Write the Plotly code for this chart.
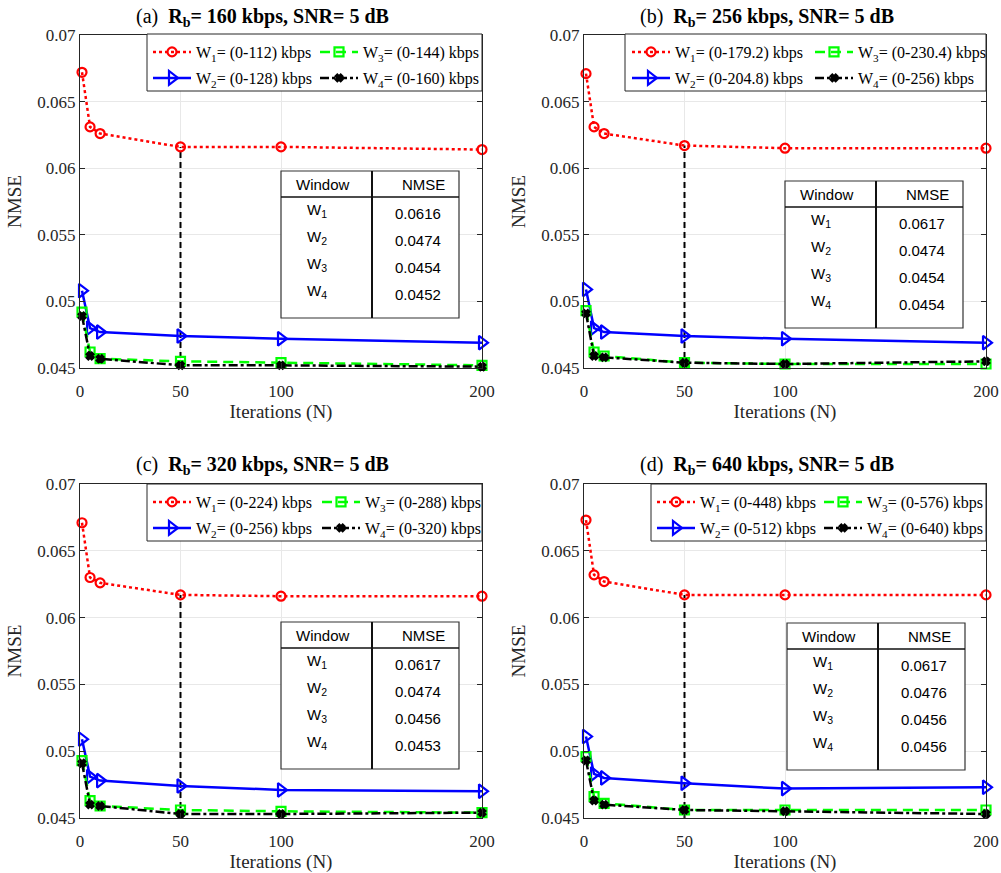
import plotly.graph_objects as go

# ---------------- data ----------------
iterations = [1, 5, 10, 50, 100, 200]
x_ticks = [0, 50, 100, 200]
y_ticks = [0.045, 0.05, 0.055, 0.06, 0.065, 0.07]
y_tick_labels = ["0.045", "0.05", "0.055", "0.06", "0.065", "0.07"]

panel_letters = ["(a)", "(b)", "(c)", "(d)"]
bit_rates = ["160", "256", "320", "640"]
snr_db = "5"
window_names = ["W1", "W2", "W3", "W4"]

a_ranges = ["0-112", "0-128", "0-144", "0-160"]
b_ranges = ["0-179.2", "0-204.8", "0-230.4", "0-256"]
c_ranges = ["0-224", "0-256", "0-288", "0-320"]
d_ranges = ["0-448", "0-512", "0-576", "0-640"]

a_W1 = [0.0672, 0.0631, 0.0626, 0.0616, 0.0616, 0.0614]
a_W2 = [0.0508, 0.0480, 0.0477, 0.0474, 0.0472, 0.0469]
a_W3 = [0.0492, 0.0462, 0.0457, 0.0455, 0.0454, 0.0452]
a_W4 = [0.0489, 0.0459, 0.0457, 0.0452, 0.0452, 0.0451]

b_W1 = [0.0671, 0.0631, 0.0626, 0.0617, 0.0615, 0.0615]
b_W2 = [0.0509, 0.0480, 0.0477, 0.0474, 0.0472, 0.0469]
b_W3 = [0.0493, 0.0462, 0.0459, 0.0454, 0.0453, 0.0453]
b_W4 = [0.0491, 0.0459, 0.0458, 0.0454, 0.0453, 0.0455]

c_W1 = [0.0671, 0.0630, 0.0626, 0.0617, 0.0616, 0.0616]
c_W2 = [0.0509, 0.0481, 0.0478, 0.0474, 0.0471, 0.0470]
c_W3 = [0.0493, 0.0463, 0.0459, 0.0456, 0.0455, 0.0454]
c_W4 = [0.0491, 0.0460, 0.0459, 0.0453, 0.0453, 0.0454]

d_W1 = [0.0673, 0.0632, 0.0627, 0.0617, 0.0617, 0.0617]
d_W2 = [0.0511, 0.0483, 0.0480, 0.0476, 0.0472, 0.0473]
d_W3 = [0.0496, 0.0466, 0.0461, 0.0456, 0.0456, 0.0456]
d_W4 = [0.0493, 0.0463, 0.0460, 0.0456, 0.0455, 0.0453]

table_a = ["0.0616", "0.0474", "0.0454", "0.0452"]
table_b = ["0.0617", "0.0474", "0.0454", "0.0454"]
table_c = ["0.0617", "0.0474", "0.0456", "0.0453"]
table_d = ["0.0617", "0.0476", "0.0456", "0.0456"]

# ---------------- layout / styles ----------------
W, H = 1001, 873
SERIF = "Liberation Serif, Times New Roman, serif"
SANS = "Liberation Sans, Arial, sans-serif"
AXC = "#262626"

boxes = [(80, 482, 35, 368), (584, 986, 35, 368), (80, 482, 484, 818), (584, 986, 484, 818)]
legend_boxes = [(147, 34), (625, 34), (147, 484), (651, 484)]   # left, top px (right = axis right)
legend_bottom_off = 57
legend_text_x = [196, 675, 196, 700]
legend_col_gap = [165, 181, 167, 165]
ITEMW = 38
table_pos = [(281, 171), (785, 181), (281, 622), (787, 623)]

styles = [
    dict(color="#ff0000", dash="dot", symbol="circle-open", size=9, width=2.5),
    dict(color="#0000ff", dash="solid", symbol="triangle-right-open", size=12, width=2.5),
    dict(color="#00ff00", dash="10px,6px", symbol="square-open", size=9, width=2.5),
    dict(color="#000000", dash="dashdot", symbol="x", size=6, width=2.5),
]

panels = [
    (a_ranges, [a_W1, a_W2, a_W3, a_W4], table_a),
    (b_ranges, [b_W1, b_W2, b_W3, b_W4], table_b),
    (c_ranges, [c_W1, c_W2, c_W3, c_W4], table_c),
    (d_ranges, [d_W1, d_W2, d_W3, d_W4], table_d),
]

fig = go.Figure()
shapes, annotations = [], []
layout = dict(width=W, height=H, margin=dict(l=0, r=0, t=0, b=0, autoexpand=False),
              paper_bgcolor="white", plot_bgcolor="white", showlegend=True)

for i, (ranges, series, table) in enumerate(panels):
    k = "" if i == 0 else str(i + 1)
    xa, ya = "x" + k, "y" + k
    l, r, t, b = boxes[i]
    pw, ph = r - l, b - t

    def dx(px):
        return (px - l) / pw

    def dy(py):
        return 1 - (py - t) / ph

    # vertical dashed marker at N = 50
    idx50 = iterations.index(50)
    fig.add_trace(go.Scatter(x=[iterations[idx50], iterations[idx50]],
                             y=[y_ticks[0], series[0][idx50]],
                             mode="lines", line=dict(color="black", dash="6px,4px", width=2),
                             showlegend=False, xaxis=xa, yaxis=ya, hoverinfo="skip"))
    for j, (vals, st) in enumerate(zip(series, styles)):
        row = 0 if j in (0, 2) else 1
        leg_name = "legend" + ("" if (2 * i + row) == 0 else str(2 * i + row + 1))
        name = "W<sub>%d</sub>= (%s) kbps" % (j + 1, ranges[j])
        extra = {}
        if j in (0, 1):
            extra["legendwidth"] = legend_col_gap[i] - 51
        fig.add_trace(go.Scatter(
            x=iterations, y=vals, mode="lines+markers", name=name,
            line=dict(color=st["color"], dash=st["dash"], width=st["width"]),
            marker=dict(symbol=st["symbol"], size=st["size"], color=st["color"],
                        line=dict(color=st["color"], width=2.2)),
            cliponaxis=False, xaxis=xa, yaxis=ya, legend=leg_name, **extra))

    axis_common = dict(showline=True, linecolor=AXC, linewidth=1, mirror="ticks",
                       ticks="inside", ticklen=5, tickcolor=AXC, tickwidth=1,
                       showgrid=True, gridcolor="#e8e8e8", gridwidth=1, zeroline=False,
                       automargin=False,
                       tickfont=dict(family=SERIF, size=17, color=AXC))
    layout["xaxis" + k] = dict(axis_common, domain=[l / W, r / W], anchor=ya,
                               range=[0, 200], tickvals=x_ticks, ticklabelstandoff=8,
                               title=dict(text="Iterations (N)", standoff=2,
                                          font=dict(family=SERIF, size=19, color=AXC)))
    layout["yaxis" + k] = dict(axis_common, domain=[1 - b / H, 1 - t / H], anchor=xa,
                               range=[0.045, 0.07], tickvals=y_ticks, ticktext=y_tick_labels,
                               title=dict(text="NMSE", standoff=10,
                                          font=dict(family=SERIF, size=19, color=AXC)))

    # title
    annotations.append(dict(
        xref=xa + " domain", yref=ya + " domain", x=0.455, y=dy(t - 18),
        xanchor="center", yanchor="middle", showarrow=False,
        text="%s  <b>R<sub>b</sub>= %s kbps, SNR= %s dB</b>" % (panel_letters[i], bit_rates[i], snr_db),
        font=dict(family=SERIF, size=20, color="black")))

    # legend box & legends
    lbl, lbt = legend_boxes[i]
    shapes.append(dict(type="rect", xref=xa + " domain", yref=ya + " domain",
                       x0=dx(lbl), x1=1, y0=dy(lbt + legend_bottom_off), y1=dy(lbt),
                       line=dict(color=AXC, width=1), fillcolor="white", layer="above"))
    for row in range(2):
        n = 2 * i + row
        key = "legend" + ("" if n == 0 else str(n + 1))
        layout[key] = dict(x=(legend_text_x[i] - ITEMW - 10) / W, y=1 - (lbt + 1 + 26 * row) / H,
                           xanchor="left", yanchor="top", orientation="h",
                           bgcolor="rgba(0,0,0,0)", borderwidth=0, itemwidth=ITEMW,
                           font=dict(family=SERIF, size=16, color="black"),
                           itemclick=False, itemdoubleclick=False)

    # table
    tl, tt = table_pos[i]
    tw, th = 178, 147
    shapes.append(dict(type="rect", xref=xa + " domain", yref=ya + " domain",
                       x0=dx(tl), x1=dx(tl + tw), y0=dy(tt + th), y1=dy(tt),
                       line=dict(color="#333333", width=1.2), fillcolor="white", layer="above"))
    shapes.append(dict(type="line", xref=xa + " domain", yref=ya + " domain",
                       x0=dx(tl), x1=dx(tl + tw), y0=dy(tt + 26), y1=dy(tt + 26),
                       line=dict(color="#111111", width=1.5), layer="above"))
    shapes.append(dict(type="line", xref=xa + " domain", yref=ya + " domain",
                       x0=dx(tl + 91), x1=dx(tl + 91), y0=dy(tt + th), y1=dy(tt),
                       line=dict(color="#111111", width=2), layer="above"))
    tfont = dict(family=SANS, size=15, color="black")
    annotations.append(dict(xref=xa + " domain", yref=ya + " domain", x=dx(tl + 42), y=dy(tt + 13),
                            text="Window", showarrow=False, xanchor="center", yanchor="middle", font=tfont))
    annotations.append(dict(xref=xa + " domain", yref=ya + " domain", x=dx(tl + 142), y=dy(tt + 13),
                            text="NMSE", showarrow=False, xanchor="center", yanchor="middle", font=tfont))
    for j in range(4):
        yy = tt + 42 + 27 * j
        annotations.append(dict(xref=xa + " domain", yref=ya + " domain", x=dx(tl + 24), y=dy(yy - 4),
                                text="W<sub>%s</sub>" % window_names[j][1:], showarrow=False,
                                xanchor="left", yanchor="top", yshift=10, font=tfont))
        annotations.append(dict(xref=xa + " domain", yref=ya + " domain", x=dx(tl + tw - 16), y=dy(yy),
                                text=table[j], showarrow=False, xanchor="right", yanchor="middle",
                                font=tfont))

layout["shapes"] = shapes
layout["annotations"] = annotations
fig.update_layout(**layout)
fig.write_html("out.html")
